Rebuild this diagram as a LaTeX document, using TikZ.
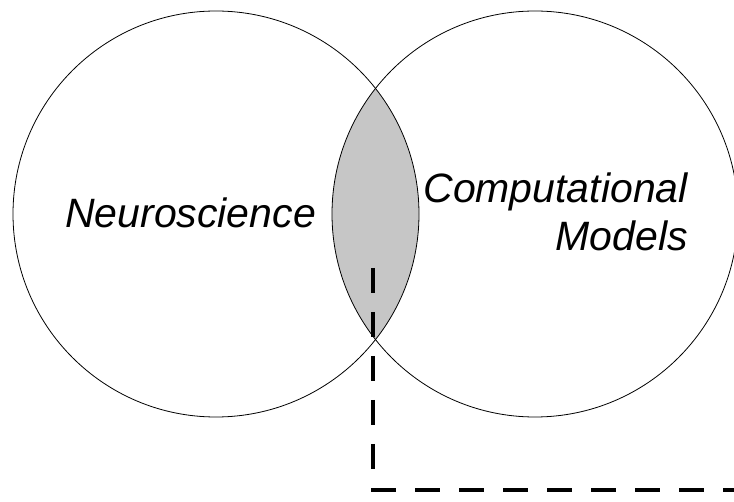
\documentclass[tikz,border=0pt]{standalone}
\usepackage{fontspec}
\setmainfont{Liberation Sans}
\usetikzlibrary{positioning}
\tikzset{
    venn/.style={circle,draw=black,line width=0.8pt,minimum size=406pt,inner sep=0pt},
    lbl/.style={font=\fontsize{41}{48}\selectfont\itshape,inner sep=0pt},
    leader/.style={line width=4pt,dash pattern=on 25pt off 19pt}
}
\begin{document}
\begin{tikzpicture}[x=1pt,y=-1pt]
    \useasboundingbox (0,0) rectangle (734,502);

    % overlap region
    \begin{scope}
        \clip (216,214) circle[radius=203pt];
        \fill[gray!45] (535,214) circle[radius=203pt];
    \end{scope}
    \node[venn] (neuro) at (216,214) {};
    \node[venn] (comp) at (535,214) {};

    \node[lbl,anchor=base west] (neurotxt) at (65,228) {Neuroscience};
    \node[lbl,anchor=base east] (comptxt) at (688,203) {Computational};
    \node[lbl,anchor=base east] (modeltxt) at (688,251) {Models};

    \coordinate (lensdash) at (373,268);
    \coordinate (offedge) at (734,490);
    \draw[leader] (lensdash) |- (offedge);
\end{tikzpicture}
\end{document}
